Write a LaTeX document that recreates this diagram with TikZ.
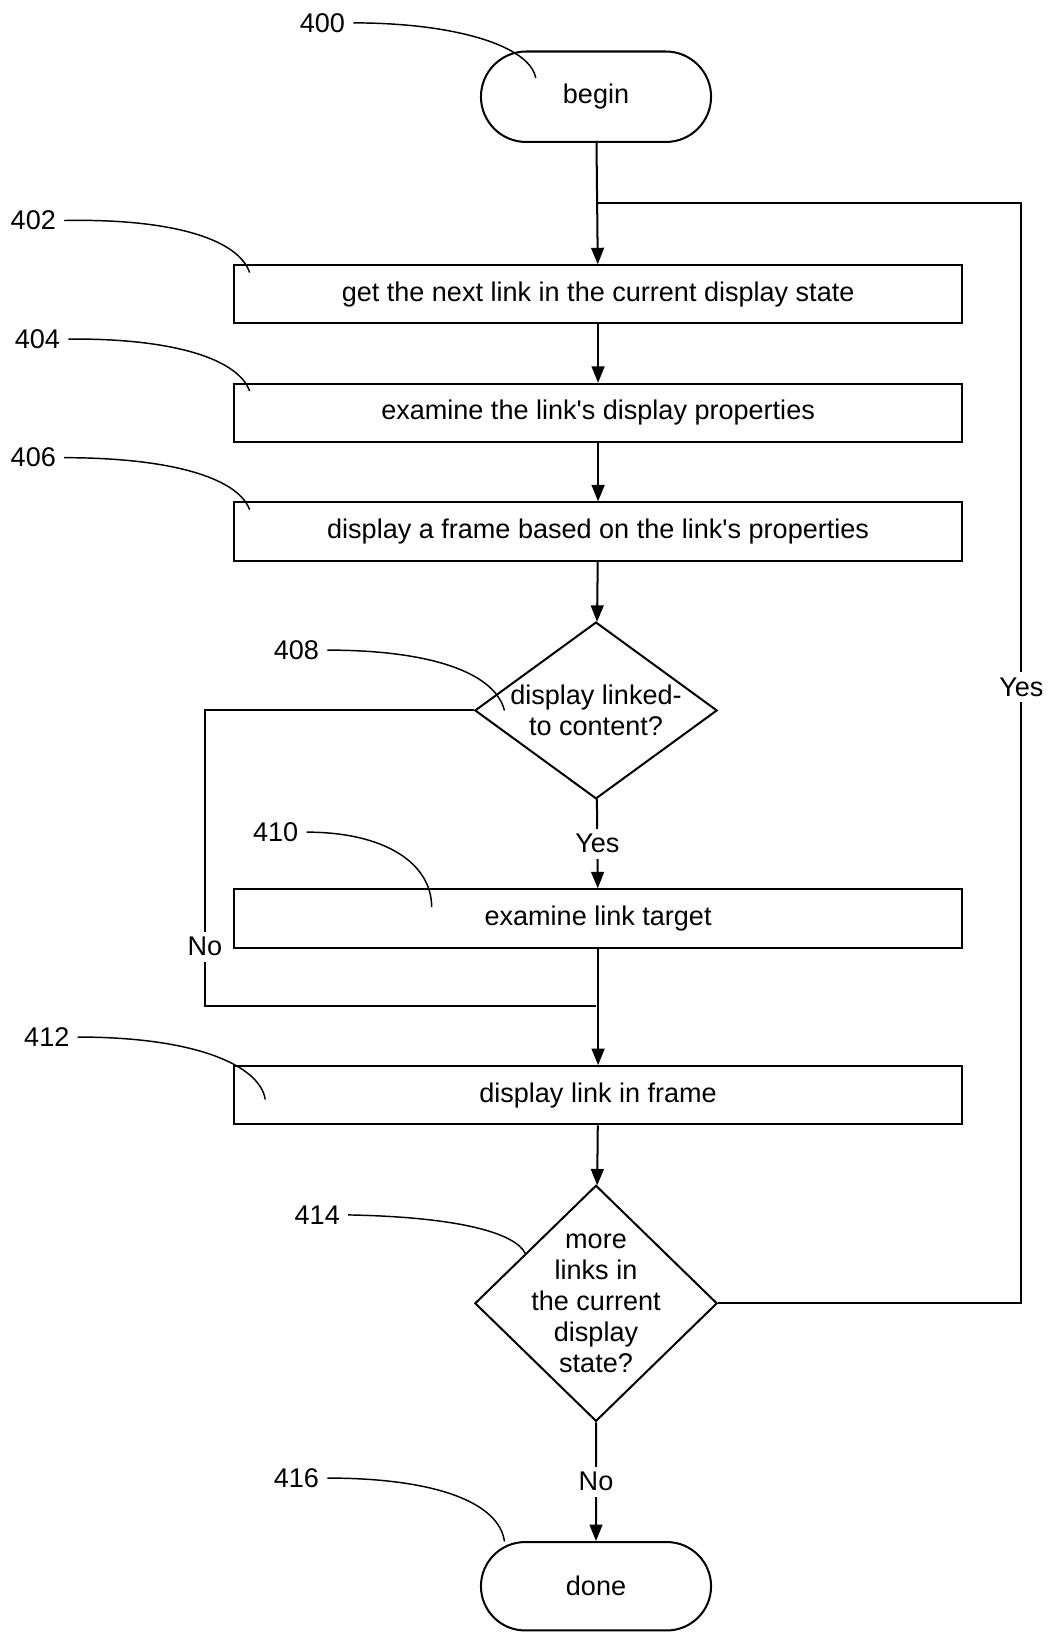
\documentclass[tikz,border=0pt]{standalone}
\usepackage{fontspec}
\setmainfont{Liberation Sans}
\usetikzlibrary{shapes.geometric,shapes.misc,arrows.meta,positioning}

\begin{document}
\begin{tikzpicture}[x=0.02cm,y=0.02cm,line width=1.1pt,
  font=\fontsize{14.8}{17}\selectfont,
  stepbox/.style={draw,rectangle,minimum width=14cm,minimum height=1.12cm,inner sep=0pt},
  term/.style={draw,rounded rectangle,minimum width=4.66cm,minimum height=1.74cm},
  decision/.style={draw,diamond,inner sep=0pt,minimum width=4.66cm},
  arr/.style={-{Triangle[length=9pt,width=7pt]}},
  leader/.style={line width=0.8pt},
  refnum/.style={inner sep=4pt},
  gap/.style={fill=white,inner sep=3pt}]
\useasboundingbox (0,0) rectangle (1010,-1569);

\node[term] (begin) at (573,-93) {begin};
\node[stepbox] (s402) at (575,-283) {get the next link in the current display state};
\node[stepbox] (s404) at (575,-397) {examine the link\textquotesingle s display properties};
\node[stepbox] (s406) at (575,-511) {display a frame based on the link\textquotesingle s properties};
\node[decision,minimum height=3.4cm,
  label={[align=center]center:{display linked-\\to content?}}] (d408) at (573,-683) {};
\node[stepbox] (s410) at (575,-883) {examine link target};
\node[stepbox] (s412) at (575,-1053) {display link in frame};
\node[decision,minimum height=4.54cm,
  label={[align=center]center:{more\\links in\\the current\\display\\state?}}] (d414) at (573,-1253) {};
\node[term,minimum height=1.7cm] (done) at (573,-1525) {done};

\coordinate (top) at (573,-195);
\coordinate (loopR) at (982,-195);
\coordinate (merge) at (573,-967);
\coordinate (noL) at (197,-967);

\draw[arr] (begin) -- (s402);
\draw[arr] (s402) -- (s404);
\draw[arr] (s404) -- (s406);
\draw[arr] (s406) -- (d408);
\draw[arr] (d408) -- node[gap] {Yes} (s410);
\draw[arr] (s410) -- (s412);
\draw[arr] (s412) -- (d414);
\draw[arr] (d414) -- node[gap] {No} (done);

\draw (d408.west) -| node[gap,pos=0.9] {No} (noL) -- (merge);
\draw (d414.east) -| node[gap,pos=0.78] {Yes} (loopR) -- (top);

% reference numerals
\node[refnum] (n400) at (310,-22) {400};
\node[refnum] (n402) at (32,-212) {402};
\node[refnum] (n404) at (36,-326) {404};
\node[refnum] (n406) at (32,-440) {406};
\node[refnum] (n408) at (285,-625) {408};
\node[refnum] (n410) at (265,-800) {410};
\node[refnum] (n412) at (45,-997) {412};
\node[refnum] (n414) at (305,-1168) {414};
\node[refnum] (n416) at (285,-1421) {416};

\draw[leader] (n400.east) .. controls (440,-22) and (510,-45) .. (515,-75);
\draw[leader] (n402.east) .. controls (160,-210) and (228,-228) .. (240,-262);
\draw[leader] (n404.east) .. controls (160,-325) and (228,-343) .. (240,-376);
\draw[leader] (n406.east) .. controls (160,-440) and (228,-458) .. (240,-490);
\draw[leader] (n408.east) .. controls (410,-625) and (475,-645) .. (485,-683);
\draw[leader] (n410.east) .. controls (370,-800) and (415,-830) .. (415,-872);
\draw[leader] (n412.east) .. controls (190,-997) and (250,-1025) .. (255,-1057);
\draw[leader] (n414.east) .. controls (440,-1170) and (495,-1185) .. (505,-1205);
\draw[leader] (n416.east) .. controls (420,-1421) and (480,-1445) .. (485,-1482);

\end{tikzpicture}
\end{document}
